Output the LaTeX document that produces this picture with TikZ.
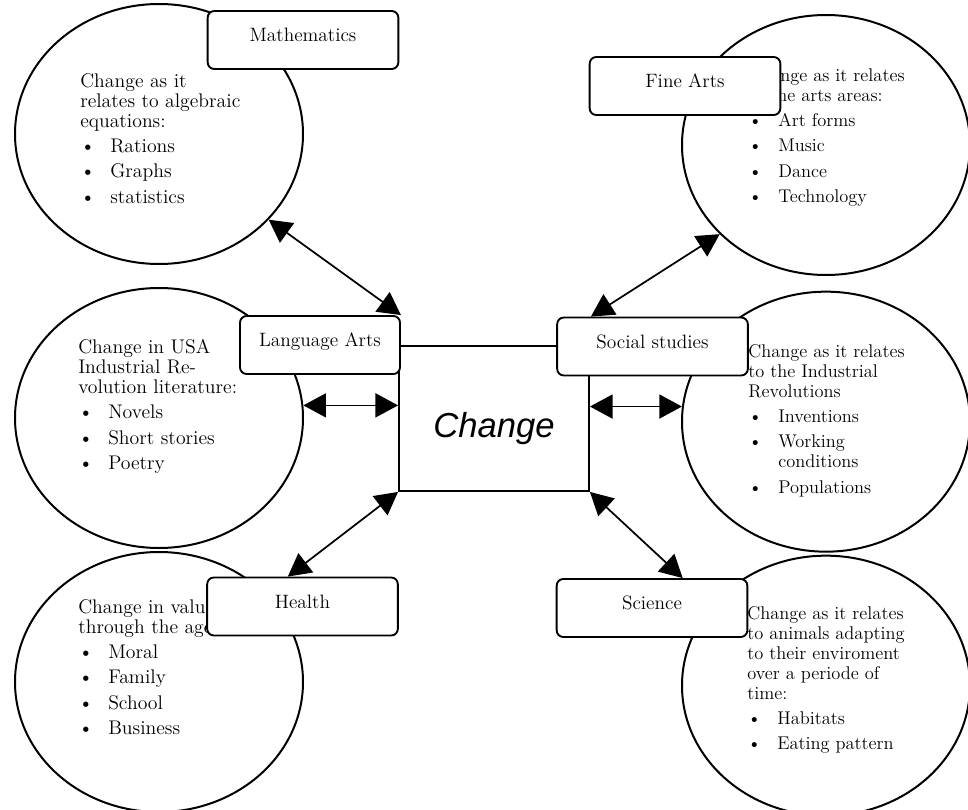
\documentclass[tikz,border=0pt]{standalone}
\usepackage{fontspec}
\newfontfamily\bigfont{Liberation Sans}
\usepackage{tikz}
\usetikzlibrary{shapes.geometric,arrows.meta,positioning}
\newcommand{\bitem}[1]{\makebox[22.5pt][l]{\textbullet}#1}

\begin{document}
\begin{tikzpicture}[
  x=0.75pt, y=-0.75pt,
  blob/.style={ellipse, draw, line width=1.5pt, minimum width=216pt,
               minimum height=195pt, inner sep=0pt},
  txt/.style={anchor=north west, align=left, inner sep=0pt,
              font=\fontsize{14.8pt}{15pt}\selectfont},
  rtxt/.style={txt, font=\fontsize{13.8pt}{15pt}\selectfont},
  box/.style={rectangle, rounded corners=5pt, draw, line width=1.4pt, fill=white,
              minimum width=143pt, minimum height=43.5pt, inner sep=0pt,
              text height=23pt, text depth=20.5pt,
              font=\fontsize{14.5pt}{15pt}\selectfont},
  core/.style={rectangle, draw, line width=1.4pt, minimum width=142.5pt,
               minimum height=108.75pt, inner sep=0pt, text height=29.2pt,
               text depth=0pt, font=\bigfont\itshape\fontsize{26pt}{30pt}\selectfont},
  link/.style={{Triangle[length=17pt,width=18pt]}-{Triangle[length=17pt,width=18pt]},
               line width=1.3pt}
]
\useasboundingbox (0,0) rectangle (968,810);
\node[blob] (mathc) at (159,134) {};
\node[blob, below=16.5pt of mathc] (langc) {};
\node[blob, below=1.5pt of langc] (healthc) {};
\node[blob] (finec) at (826,145) {};
\node[blob, below=11pt of finec] (socc) {};
\node[blob, below=1.5pt of socc] (scic) {};
\node[txt] (mathtxt) at (80,73)
  {Change as it\\relates to algebraic\\equations:\\[4pt]\bitem{Rations}\\[4pt]\bitem{Graphs}\\[4pt]\bitem{statistics}};
\node[txt] (langtxt) at (78,339)
  {Change in USA\\Industrial Re-\\volution literature:\\[4pt]\bitem{Novels}\\[4pt]\bitem{Short stories}\\[4pt]\bitem{Poetry}};
\node[txt] (healthtxt) at (78,599)
  {Change in values\\through the ages\\[4pt]\bitem{Moral}\\[4pt]\bitem{Family}\\[4pt]\bitem{School}\\[4pt]\bitem{Business}};
\node[rtxt] (finetxt) at (748,68)
  {Change as it relates\\to the arts areas:\\[4pt]\bitem{Art forms}\\[4pt]\bitem{Music}\\[4pt]\bitem{Dance}\\[4pt]\bitem{Technology}};
\node[rtxt] (soctxt) at (748,344)
  {Change as it relates\\to the Industrial\\Revolutions\\[4pt]\bitem{Inventions}\\[4pt]\bitem{Working}\\\makebox[22.5pt]{}conditions\\[4pt]\bitem{Populations}};
\node[rtxt] (scitxt) at (747,606)
  {Change as it relates\\to animals adapting\\to their enviroment\\over a periode of\\time:\\[4pt]\bitem{Habitats}\\[4pt]\bitem{Eating pattern}};
\node[core] (sq) at (494,418.5) {Change};
\node[box] (math) at (303,40) {Mathematics};
\node[box] (fine) at (685,86) {Fine Arts};
\node[box, minimum width=120pt] (lang) at (320,345) {Language Arts};
\node[box] (soc) at (652.5,346.5) {Social studies};
\node[box] (health) at (302.5,606.5) {Health};
\node[box] (sci) at (652,608) {Science};
\draw[link] (mathc.-38) -- (lang.north east);
\draw[link] (finec.-140) -- ([xshift=26pt]soc.north west);
\draw[link] (langc.5) -- (langc.5 -| sq.west);
\draw[link] (socc.174) -- (socc.174 -| sq.east);
\draw[link] ([xshift=-11pt]health.north) -- (sq.south west);
\draw[link] ([xshift=23pt]sci.north) -- (sq.south east);
\end{tikzpicture}
\end{document}
